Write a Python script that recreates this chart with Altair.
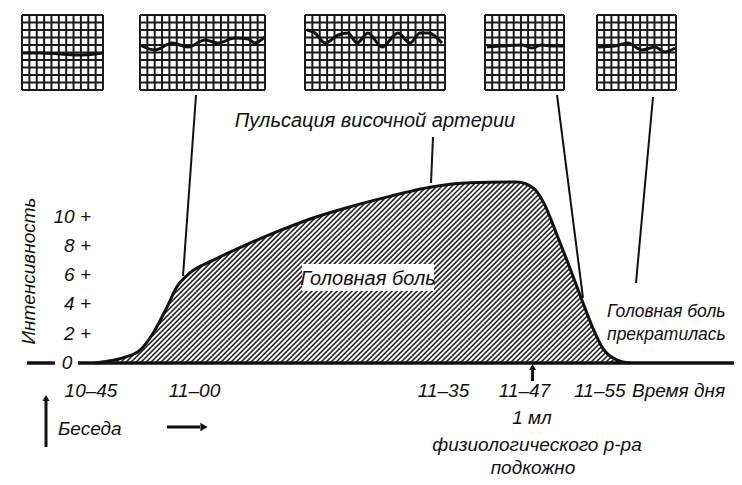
import altair as alt
import pandas as pd
import numpy as np

# ---------------- data ----------------
# headache curve: minutes after 10-45, intensity
minutes = [1.0, 3.1, 5.2, 7.3, 9.1, 11.0, 12.4, 14.2, 17.4, 22.2, 26.8, 31.4, 36.1,
           40.7, 47.7, 53.3, 59.8, 62.1, 63.5, 65.4, 67.2, 69.0, 70.4, 71.8, 73.8, 75.6]
intensity = [0.0, 0.15, 0.4, 0.9, 2.05, 3.8, 5.2, 6.15, 7.0, 8.1, 9.05, 9.9, 10.6,
             11.2, 12.0, 12.3, 12.35, 11.95, 11.0, 8.75, 6.5, 4.15, 2.4, 1.0, 0.2, 0.0]

tick_minutes = [0, 15, 50, 62, 70]
tick_labels = ["10–45", "11–00", "11–35", "11–47", "11–55"]
y_tick_values = [10, 8, 6, 4, 2]
y_tick_labels = ["10 +", "8 +", "6 +", "4 +", "2 +"]

# temporal artery pulsation traces (fraction across inset, fraction down from top)
wave1_x = [0.0, 0.22, 0.47, 0.72, 0.9, 1.0]
wave1_y = [0.507, 0.507, 0.52, 0.533, 0.52, 0.507]
wave2_x = [0.0, 0.12, 0.256, 0.384, 0.52, 0.624, 0.76, 0.864, 0.92, 1.0]
wave2_y = [0.40, 0.467, 0.373, 0.427, 0.333, 0.373, 0.307, 0.32, 0.373, 0.293]
wave3_x = [0.014, 0.071, 0.143, 0.236, 0.307, 0.371, 0.45, 0.55, 0.664, 0.75, 0.821, 0.879, 0.979]
wave3_y = [0.2, 0.24, 0.373, 0.267, 0.24, 0.373, 0.24, 0.427, 0.24, 0.373, 0.24, 0.24, 0.373]
wave4_x = [0.025, 0.215, 0.468, 0.595, 0.72, 0.85, 0.99]
wave4_y = [0.427, 0.413, 0.40, 0.44, 0.40, 0.413, 0.413]
wave5_x = [0.013, 0.228, 0.392, 0.57, 0.734, 0.86, 0.987]
wave5_y = [0.427, 0.413, 0.373, 0.467, 0.427, 0.493, 0.44]
waves_x = [wave1_x, wave2_x, wave3_x, wave4_x, wave5_x]
waves_y = [wave1_y, wave2_y, wave3_y, wave4_y, wave5_y]

# ---------------- layout (page pixels) ----------------
W, H = 726, 469
MARGIN = 8
PX_PER_MIN = 7.17
PX_PER_UNIT = 14.65
X0_PAGE = 88
Y0_PAGE = 363

xa = -(X0_PAGE - MARGIN) / PX_PER_MIN
xb = xa + W / PX_PER_MIN
yb = (Y0_PAGE - MARGIN) / PX_PER_UNIT
ya = yb - H / PX_PER_UNIT


def mx(px):
    return (px - X0_PAGE) / PX_PER_MIN


def vy(py):
    return (Y0_PAGE - py) / PX_PER_UNIT


XS = alt.Scale(domain=[xa, xb], nice=False, zero=False)
YS = alt.Scale(domain=[ya, yb], nice=False, zero=False)
FONT = "Liberation Sans, Arial, sans-serif"
INK = "#111111"


def X(f):
    return alt.X(f, type="quantitative", scale=XS, axis=None)


def Y(f):
    return alt.Y(f, type="quantitative", scale=YS, axis=None)


def X2(f):
    return alt.X2(f)


def Y2(f):
    return alt.Y2(f)


def rules(df, width, color=INK):
    return alt.Chart(df).mark_rule(color=color, strokeWidth=width).encode(
        x=X("x"), x2=X2("x2"), y=Y("y"), y2=Y2("y2"))


def texts(df, size=20, align="center", baseline="alphabetic", dx=0, angle=0):
    kw = dict(font=FONT, fontStyle="italic", fontSize=size, align=align,
              baseline=baseline, color=INK, dx=dx)
    if angle:
        kw["angle"] = angle
    return alt.Chart(df).mark_text(**kw).encode(x=X("x"), y=Y("y"), text="t:N")


layers = []

# hatching (45 degree lines), masked above the curve
TOP = 13.0
hatch_step = 5 / PX_PER_MIN
starts = np.arange(minutes[0], minutes[-1], hatch_step)
hatch = pd.DataFrame({"x": starts, "x2": starts + TOP * PX_PER_UNIT / PX_PER_MIN,
                      "y": 0.0, "y2": TOP})
layers.append(rules(hatch, 1.6, "#222222"))

mask = pd.DataFrame({"x": minutes + [xb + 2], "y": intensity + [0.0]})
mask["y2"] = TOP + 0.5
layers.append(alt.Chart(mask).mark_area(color="white", interpolate="monotone", opacity=1).encode(
    x=X("x"), y=Y("y"), y2=Y2("y2")))

# white label box inside the area
box = pd.DataFrame({"x": [mx(302)], "x2": [mx(434)], "y": [vy(264)], "y2": [vy(291)]})
layers.append(alt.Chart(box).mark_rect(color="white").encode(
    x=X("x"), x2=X2("x2"), y=Y("y"), y2=Y2("y2")))

# the curve itself
curve = pd.DataFrame({"x": minutes, "y": intensity})
layers.append(alt.Chart(curve).mark_line(color=INK, strokeWidth=3, interpolate="monotone").encode(
    x=X("x"), y=Y("y")))

# baseline and the dash left of 0
base = pd.DataFrame({"x": [mx(78), mx(27)], "x2": [mx(745), mx(55)], "y": [0.0, 0.0], "y2": [0.0, 0.0]})
layers.append(rules(base, 3.5))

# inset boxes (page px: left, top, right, bottom)
BOXES = [(22, 15, 103, 90), (140, 15, 265, 90), (305, 15, 445, 90), (485, 15, 564, 90), (597, 15, 676, 90)]
CELL = 7.4
grid_rows = []
wave_rows = []
for i, (l, t, r, b) in enumerate(BOXES):
    ncol = int(round((r - l) / CELL))
    nrow = int(round((b - t) / CELL))
    for k in range(ncol + 1):
        px = l + (r - l) * k / ncol
        grid_rows.append((mx(px), mx(px), vy(t), vy(b)))
    for k in range(nrow + 1):
        py = t + (b - t) * k / nrow
        grid_rows.append((mx(l), mx(r), vy(py), vy(py)))
    for j, (fx, fy) in enumerate(zip(waves_x[i], waves_y[i])):
        wave_rows.append({"box": i, "o": j, "x": mx(l + fx * (r - l)), "y": vy(t + fy * (b - t))})
grid = pd.DataFrame(grid_rows, columns=["x", "x2", "y", "y2"])
layers.append(rules(grid, 2.0, "#1a1a1a"))
wdf = pd.DataFrame(wave_rows)
layers.append(alt.Chart(wdf).mark_line(color=INK, strokeWidth=3, interpolate="monotone").encode(
    x=X("x"), y=Y("y"), detail="box:N", order="o:Q"))

# connector lines
conn = pd.DataFrame({
    "x": [mx(196), mx(433), mx(557), mx(653)],
    "x2": [mx(183), mx(431), mx(583), mx(636)],
    "y": [vy(95), vy(137), vy(95), vy(97)],
    "y2": [vy(276), vy(183), vy(298), vy(283)],
})
layers.append(rules(conn, 2.0))

# arrows
arrow_lines = pd.DataFrame({
    "x": [tick_minutes[3], mx(46), mx(167)],
    "x2": [tick_minutes[3], mx(46), mx(200)],
    "y": [vy(381), vy(447), vy(427)],
    "y2": [vy(368), vy(400), vy(427)],
})
layers.append(rules(arrow_lines, 3.0))
heads_up = pd.DataFrame({"x": [tick_minutes[3], mx(46)], "y": [vy(367), vy(398)]})
layers.append(alt.Chart(heads_up).mark_point(shape="triangle-up", filled=True, color=INK, size=50, opacity=1).encode(
    x=X("x"), y=Y("y")))
head_r = pd.DataFrame({"x": [mx(204)], "y": [vy(427)]})
layers.append(alt.Chart(head_r).mark_point(shape="triangle-right", filled=True, color=INK, size=70, opacity=1).encode(
    x=X("x"), y=Y("y")))

# y tick labels
ylab = pd.DataFrame({"x": [mx(91)] * len(y_tick_values), "y": y_tick_values, "t": y_tick_labels})
layers.append(texts(ylab, size=19, align="right", baseline="middle"))
layers.append(texts(pd.DataFrame({"x": [mx(67)], "y": [0.0], "t": ["0"]}), size=19, baseline="middle"))

# x tick labels (small nudges where the original drawing is not to scale)
LABEL_NUDGE = [3, -1, -3, -8, 10]
for m, lab, d in zip(tick_minutes, tick_labels, LABEL_NUDGE):
    layers.append(texts(pd.DataFrame({"x": [m], "y": [vy(397)], "t": [lab]}), size=19, dx=d))

# other text
layers.append(texts(pd.DataFrame({"x": [mx(632)], "y": [vy(397)], "t": ["Время дня"]}), size=19, align="left"))
layers.append(texts(pd.DataFrame({"x": [mx(58)], "y": [vy(435)], "t": ["Беседа"]}), size=19, align="left"))
layers.append(texts(pd.DataFrame({"x": [mx(29)], "y": [vy(271)], "t": ["Интенсивность"]}),
                    size=19, baseline="middle", angle=270))
layers.append(texts(pd.DataFrame({"x": [mx(375)], "y": [vy(127)], "t": ["Пульсация височной артерии"]}), size=20))
layers.append(texts(pd.DataFrame({"x": [mx(368)], "y": [vy(285)], "t": ["Головная боль"]}), size=20))
layers.append(texts(pd.DataFrame({"x": [mx(607), mx(607)], "y": [vy(317), vy(340)],
                                  "t": ["Головная боль", "прекратилась"]}), size=17.5, align="left"))
layers.append(texts(pd.DataFrame({"x": [mx(532), mx(537), mx(533)], "y": [vy(424), vy(451), vy(474)],
                                  "t": ["1 мл", "физиологического р-ра", "подкожно"]}), size=19))

chart = alt.layer(*layers).properties(
    width=W, height=H, padding=0, autosize=alt.AutoSizeParams(type="none"), background="white"
).configure_view(stroke=None)

chart.save("out.html", embed_options={"renderer": "svg", "actions": False})
